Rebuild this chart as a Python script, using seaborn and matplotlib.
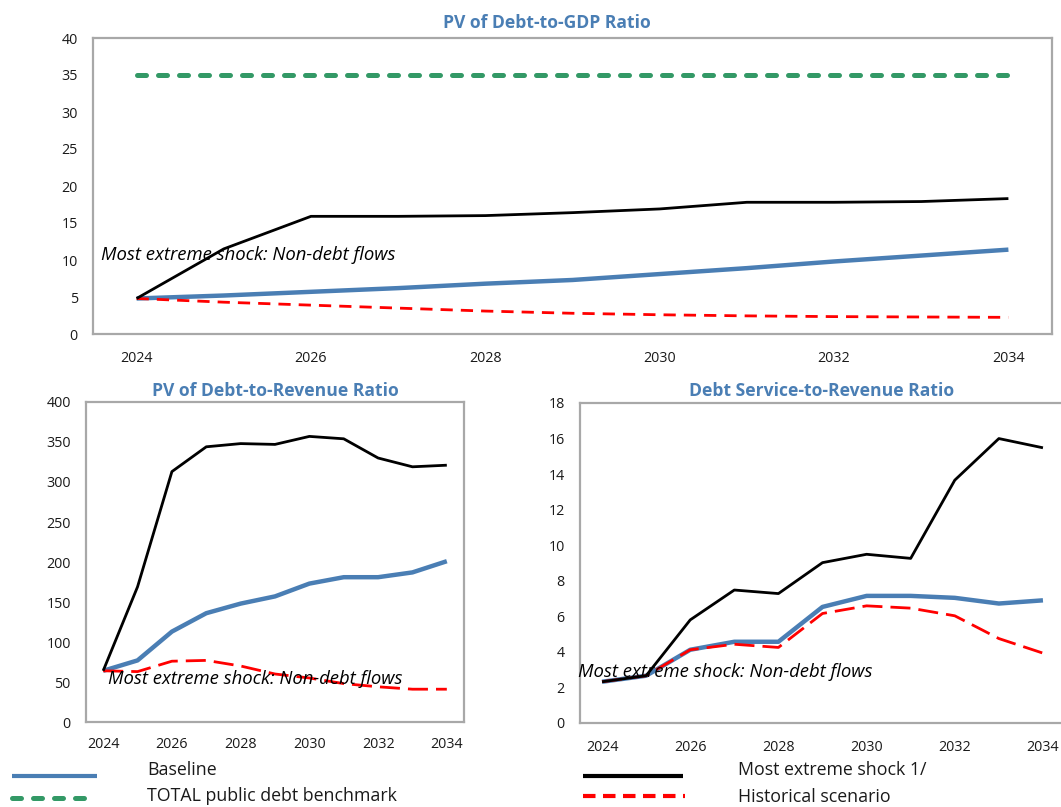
import matplotlib
matplotlib.use("Agg")
import matplotlib.pyplot as plt
import numpy as np
import pandas as pd
import seaborn as sns

# ---------------------------------------------------------------- data
years = list(range(2024, 2035))

# PV of debt-to-GDP ratio
gdp_baseline = [4.8, 5.2, 5.7, 6.2, 6.8, 7.3, 8.1, 8.9, 9.8, 10.6, 11.4]
gdp_shock = [4.8, 11.5, 15.9, 15.9, 16.0, 16.4, 16.9, 17.8, 17.8, 17.9, 18.3]
gdp_historical = [4.8, 4.3, 3.9, 3.5, 3.1, 2.8, 2.6, 2.45, 2.35, 2.3, 2.25]
gdp_benchmark = [35] * 11

# PV of debt-to-revenue ratio
rev_baseline = [64, 77, 113, 136, 148, 157, 173, 181, 181, 187, 201]
rev_shock = [64, 169, 313, 344, 348, 347, 357, 354, 330, 319, 321]
rev_historical = [64, 63, 76, 77, 70, 60, 55, 48, 44, 41, 41]

# Debt service-to-revenue ratio
ds_baseline = [2.32, 2.66, 4.12, 4.57, 4.57, 6.53, 7.15, 7.15, 7.04, 6.72, 6.9]
ds_shock = [2.32, 2.66, 5.8, 7.48, 7.28, 9.02, 9.49, 9.26, 13.66, 16.0, 15.48]
ds_historical = [2.32, 2.66, 4.12, 4.43, 4.25, 6.16, 6.59, 6.46, 6.03, 4.75, 3.93]

titles = ["PV of Debt-to-GDP Ratio", "PV of Debt-to-Revenue Ratio",
          "Debt Service-to-Revenue Ratio"]
legend_labels = ["Baseline", "TOTAL public debt benchmark",
                 "Most extreme shock 1/", "Historical scenario"]
shock_note = "Most extreme shock: Non-debt flows"

# ---------------------------------------------------------------- style
sns.set_style("white")
plt.rcParams["font.family"] = ["Open Sans", "DejaVu Sans"]

BLUE = "#4a7eb4"
GREEN = "#339966"
RED = "#ff0000"
BLACK = "#000000"
TITLE_BLUE = "#4a7eb4"
SPINE = "#a8a8a8"
TXT = "#1a1a1a"

TICK_FS = 10.3
TITLE_FS = 12.6
NOTE_FS = 13.3
LEGEND_FS = 12.8

W, H = 1061, 807
fig = plt.figure(figsize=(W / 100, H / 100), dpi=100)


def px_axes(left, top, right, bottom):
    return fig.add_axes([left / W, (H - bottom) / H, (right - left) / W,
                         (bottom - top) / H])


def draw_series(ax, values, color, lw, dash=None, cap="butt"):
    df = pd.DataFrame({"year": years, "value": values})
    sns.lineplot(data=df, x="year", y="value", ax=ax, color=color,
                 linewidth=lw, sort=False, estimator=None)
    line = ax.lines[-1]
    if dash is not None:
        line.set_dashes(dash)
    line.set_dash_capstyle(cap)
    line.set_solid_capstyle("butt")
    line.set_solid_joinstyle("round")


def style_axes(ax, ymax, ystep, ypad, xpad):
    ax.set_xlim(2023.5, 2034.5)
    ax.set_ylim(0, ymax)
    ax.set_xlabel("")
    ax.set_ylabel("")
    ax.set_xticks(range(2024, 2035, 2))
    ax.set_xticklabels([str(y) for y in range(2024, 2035, 2)])
    ax.set_xticks(np.arange(2024.5, 2034, 1.0), minor=True)
    ax.set_yticks(np.arange(0, ymax + 0.01, ystep))
    ax.tick_params(axis="x", which="major", length=0, pad=xpad,
                   labelsize=TICK_FS, labelcolor=TXT)
    ax.tick_params(axis="x", which="minor", direction="in", length=4,
                   width=1.5, color=SPINE)
    ax.tick_params(axis="y", which="major", direction="in", length=4,
                   width=1.5, color=SPINE, pad=ypad, labelsize=TICK_FS,
                   labelcolor=TXT)
    for s in ax.spines.values():
        s.set_visible(True)
        s.set_color(SPINE)
        s.set_linewidth(1.6)
    ax.set_facecolor("white")


# ---------------------------------------------------------------- top panel
ax1 = px_axes(93, 38, 1052, 334)
draw_series(ax1, gdp_baseline, BLUE, 3.2)
draw_series(ax1, gdp_historical, RED, 2.0, dash=(4.4, 2.9))
draw_series(ax1, gdp_shock, BLACK, 2.0)
draw_series(ax1, gdp_benchmark, GREEN, 3.6, dash=(1.8, 2.4), cap="round")
style_axes(ax1, 40, 5, 11, 12)
ax1.text(2023.59, 10.7, shock_note, fontstyle="italic", fontsize=NOTE_FS,
         ha="left", va="center", color=BLACK, zorder=10)
fig.text(547 / W, 1 - 23 / H, titles[0], ha="center", va="center",
         fontsize=TITLE_FS, fontweight="bold", color=TITLE_BLUE)

# ---------------------------------------------------------------- bottom left
ax2 = px_axes(86, 402, 464, 722)
draw_series(ax2, rev_baseline, BLUE, 3.2)
draw_series(ax2, rev_historical, RED, 2.0, dash=(7.2, 2.9))
draw_series(ax2, rev_shock, BLACK, 2.0)
style_axes(ax2, 400, 50, 11, 11)
ax2.text(2024.14, 53.8, shock_note, fontstyle="italic", fontsize=NOTE_FS,
         ha="left", va="center", color=BLACK, zorder=10)
fig.text(275 / W, 1 - 391 / H, titles[1], ha="center", va="center",
         fontsize=TITLE_FS, fontweight="bold", color=TITLE_BLUE)

# ---------------------------------------------------------------- bottom right
ax3 = px_axes(580, 403, 1065, 723)
draw_series(ax3, ds_baseline, BLUE, 3.2)
draw_series(ax3, ds_historical, RED, 2.0, dash=(7.2, 2.9))
draw_series(ax3, ds_shock, BLACK, 2.0)
style_axes(ax3, 18, 2, 11, 12)
ax3.text(2023.45, 2.87, shock_note, fontstyle="italic", fontsize=NOTE_FS,
         ha="left", va="center", color=BLACK, zorder=10)
fig.text(822 / W, 1 - 391 / H, titles[2], ha="center", va="center",
         fontsize=TITLE_FS, fontweight="bold", color=TITLE_BLUE)

# ---------------------------------------------------------------- legend
leg = fig.add_axes([0, 0, 1, 1], facecolor="none")
leg.set_xlim(0, W)
leg.set_ylim(H, 0)
leg.axis("off")
leg.plot([12, 97], [776, 776], color=BLUE, lw=3.0, solid_capstyle="butt")
leg.plot([12, 92], [798, 798], color=GREEN, lw=3.6, dashes=(1.8, 2.4),
         dash_capstyle="round")
leg.plot([583, 683], [776, 776], color=BLACK, lw=3.0, solid_capstyle="butt")
leg.plot([583, 685], [796, 796], color=RED, lw=3.0, dashes=(3.0, 1.8))
leg.text(147, 770, legend_labels[0], fontsize=LEGEND_FS, va="center",
         ha="left", color=TXT)
leg.text(147, 796, legend_labels[1], fontsize=LEGEND_FS, va="center",
         ha="left", color=TXT)
leg.text(738, 770, legend_labels[2], fontsize=LEGEND_FS, va="center",
         ha="left", color=TXT)
leg.text(738, 797, legend_labels[3], fontsize=LEGEND_FS, va="center",
         ha="left", color=TXT)

fig.savefig("out.png", dpi=100)
